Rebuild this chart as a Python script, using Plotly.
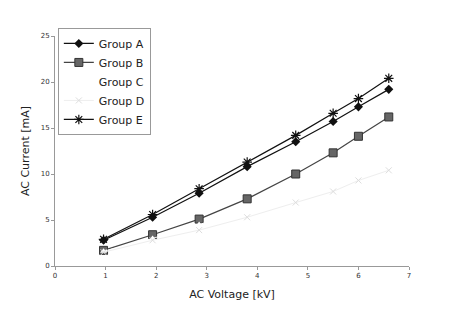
import plotly.graph_objects as go

voltage = [0.96, 1.93, 2.85, 3.80, 4.76, 5.50, 6.00, 6.60]
group_a = [2.8, 5.3, 7.9, 10.8, 13.5, 15.7, 17.3, 19.2]
group_b = [1.7, 3.4, 5.1, 7.3, 10.0, 12.3, 14.1, 16.2]
group_c = [1.6, 3.0, 4.5, 6.2, 8.3, 10.0, 11.5, 13.0]
group_d = [1.5, 2.8, 3.9, 5.3, 6.9, 8.1, 9.3, 10.4]
group_e = [2.9, 5.6, 8.4, 11.3, 14.2, 16.6, 18.2, 20.4]

fig = go.Figure()
fig.add_trace(go.Scatter(x=voltage, y=group_a, name="Group A", mode="lines+markers",
                         line=dict(color="#111111", width=1.2),
                         marker=dict(symbol="diamond", size=7, color="#111111")))
fig.add_trace(go.Scatter(x=voltage, y=group_b, name="Group B", mode="lines+markers",
                         line=dict(color="#444444", width=1.2),
                         marker=dict(symbol="square", size=8, color="#666666",
                                     line=dict(color="#333333", width=1))))
fig.add_trace(go.Scatter(x=voltage, y=group_c, name="Group C", mode="lines+markers",
                         line=dict(color="#ffffff", width=1),
                         marker=dict(symbol="triangle-up", size=6, color="#ffffff")))
fig.add_trace(go.Scatter(x=voltage, y=group_d, name="Group D", mode="lines+markers",
                         line=dict(color="#eeeeee", width=1),
                         marker=dict(symbol="x-thin-open", size=6, color="#dddddd",
                                     line=dict(color="#dddddd", width=1))))
fig.add_trace(go.Scatter(x=voltage, y=group_e, name="Group E", mode="lines+markers",
                         line=dict(color="#111111", width=1.2),
                         marker=dict(symbol="asterisk-open", size=8, color="#111111",
                                     line=dict(color="#111111", width=1.2))))

fig.update_layout(
    width=450, height=324,
    margin=dict(l=55, r=41, t=36, b=58),
    paper_bgcolor="white", plot_bgcolor="white",
    font=dict(family="DejaVu Sans", color="#222222"),
    showlegend=True,
    legend=dict(x=0.008, y=1.035, xanchor="left", yanchor="top",
                bordercolor="#999999", borderwidth=1, bgcolor="white",
                font=dict(size=11, color="#222222"), tracegroupgap=0,
                itemwidth=30),
    xaxis=dict(range=[0, 7], dtick=1, tick0=0, showgrid=False, zeroline=False,
               showline=True, linecolor="#999999", linewidth=1,
               ticks="outside", ticklen=3, tickcolor="#999999",
               tickfont=dict(size=7, color="#333333"),
               title=dict(text="AC Voltage [kV]", font=dict(size=11, color="#222222"), standoff=10)),
    yaxis=dict(range=[0, 25], dtick=5, tick0=0, showgrid=False, zeroline=False,
               showline=True, linecolor="#999999", linewidth=1,
               ticks="outside", ticklen=3, tickcolor="#999999",
               tickfont=dict(size=7, color="#333333"),
               title=dict(text="AC Current [mA]", font=dict(size=11, color="#222222"), standoff=8)),
)

fig.write_html("out.html")
